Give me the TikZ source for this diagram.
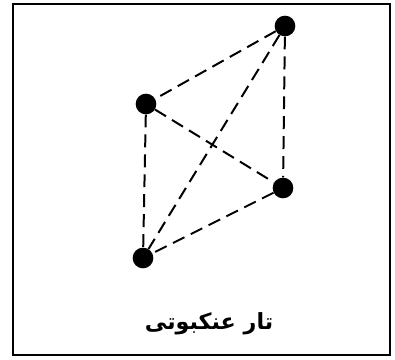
\documentclass[tikz,border=0pt]{standalone}
\usepackage{fontspec}
\newfontfamily\arabicfont[Script=Arabic]{DejaVu Sans}
\TeXXeTstate=1
\tikzset{
	vertex/.style={circle, fill=black, inner sep=0pt, minimum size=0.62cm},
	web/.style={line width=1.7pt, dash pattern=on 11pt off 6pt},
}
\begin{document}
\begin{tikzpicture}[x=0.03cm, y=-0.03cm]
	
	% Frame
	\useasboundingbox (0,0) rectangle (395,359);
	\draw[line width=1.6pt] (13,4) rectangle (390,355);
	
	% -----------------------------
	% Vertices
	% -----------------------------
	\node[vertex] (top) at (285,26) {};
	\node[vertex] (left) at (146,104) {};
	\node[vertex] (right) at (283,188) {};
	\node[vertex] (bottom) at (143,258) {};
	
	% -----------------------------
	% Web edges
	% -----------------------------
	\foreach \a/\b in {top/left, top/bottom, top/right, left/right, left/bottom, right/bottom}
		\draw[web] (\a) -- (\b);
	
	% Caption
	\node (caption) at (209,324) {\fontsize{19}{22}\selectfont\arabicfont\bfseries\beginR تار عنکبوتی\endR};
	
\end{tikzpicture}
\end{document}
